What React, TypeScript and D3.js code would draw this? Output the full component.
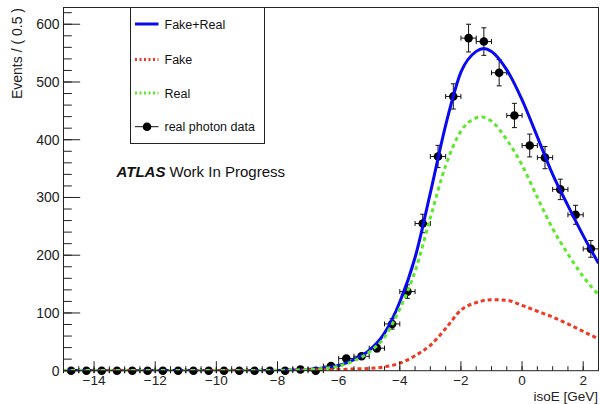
import React from "react";
import * as d3 from "d3";

// ---------- data ----------
const binCenters = [
  -14.75, -14.25, -13.75, -13.25, -12.75, -12.25, -11.75, -11.25, -10.75, -10.25,
  -9.75, -9.25, -8.75, -8.25, -7.75, -7.25, -6.75, -6.25, -5.75, -5.25,
  -4.75, -4.25, -3.75, -3.25, -2.75, -2.25, -1.75, -1.25, -0.75, -0.25,
  0.25, 0.75, 1.25, 1.75, 2.25,
];
const dataCounts = [
  0, 0, 0, 0, 0, 0, 0, 0, 0, 0,
  0, 0, 0, 0, 0, 2, 0, 8, 21, 25,
  39, 81, 137, 255, 371, 475, 576, 570, 516, 442,
  390, 369, 314, 270, 211,
];

const totalX = [-15, -8, -7.5, -7, -6.5, -6, -5.5, -5, -4.5, -4, -3.5, -3, -2.5, -2, -1.5, -1.25, -1, -0.5, 0, 0.5, 1, 1.5, 2, 2.5];
const totalY = [0.3, 0.5, 1, 2, 4.5, 9, 19, 35, 65, 119, 196, 308, 425, 517, 553, 558, 553, 521, 469, 405, 340, 286, 234, 186];

const fakeX = [-15, -8, -7.5, -7, -6.5, -6, -5.5, -5, -4.5, -4, -3.5, -3, -2.5, -2, -1.5, -1, -0.5, 0, 0.5, 1, 1.5, 2, 2.5];
const fakeY = [0, 0, 0.5, 1, 1.5, 2, 3, 4, 6.5, 13, 26, 44, 73, 105, 118, 123, 122, 113, 103, 93, 81, 68, 55];

const realX = [-15, -8, -7.5, -7, -6.5, -6, -5.5, -5, -4.5, -4, -3.5, -3, -2.5, -2, -1.5, -1.4, -1, -0.5, 0, 0.5, 1, 1.5, 2, 2.5];
const realY = [0.3, 0.5, 1, 2, 4, 8, 17, 32, 58, 107, 172, 265, 355, 415, 438, 440, 432, 400, 356, 300, 246, 202, 163, 131];

const xMajorTicks = [-14, -12, -10, -8, -6, -4, -2, 0, 2];
const yMajorTicks = [0, 100, 200, 300, 400, 500, 600];

const legendLabels = ["Fake+Real", "Fake", "Real", "real photon data"];

// ---------- layout ----------
const W = 600;
const H = 404;
const left = 63.5;
const right = 598.5;
const top = 7.5;
const bottom = 370.7;
const FONT = "'Liberation Sans', Arial, Helvetica, sans-serif";

const BLUE = "#0a0af0";
const RED = "#ee3a22";
const GREEN = "#5ee82a";

export default function App() {
  const x = d3.scaleLinear().domain([-15, 2.5]).range([left, right]);
  const y = d3.scaleLinear().domain([0, 629]).range([bottom, top]);

  const mk = (xs: number[], ys: number[]) =>
    d3
      .line<number>()
      .x((_, i) => x(xs[i]))
      .y((_, i) => y(ys[i]))
      .curve(d3.curveMonotoneX)(ys) || "";

  const xMinor = d3.range(-15, 2.5001, 0.5);
  const yMinor = d3.range(0, 629, 20);

  const halfW = x(0.25) - x(0);

  return (
    <svg
      width={W}
      height={H}
      style={{ position: "absolute", left: 0, top: 0, background: "white" }}
      fontFamily={FONT}
    >
      <defs>
        <clipPath id="plot">
          <rect x={left} y={top} width={right - left} height={bottom - top} />
        </clipPath>
      </defs>

      {/* data points */}
      <g stroke="#111" strokeWidth={1}>
        {binCenters.map((c, i) => {
          const n = dataCounts[i];
          const cx = x(c);
          const cy = y(n);
          const err = Math.sqrt(n);
          const yU = y(n + err);
          const yD = y(Math.max(0, n - err));
          return (
            <g key={i}>
              <line x1={cx - halfW} x2={cx + halfW} y1={cy} y2={cy} />
              <line x1={cx - halfW} x2={cx - halfW} y1={cy - 2.5} y2={cy + 2.5} />
              <line x1={cx + halfW} x2={cx + halfW} y1={cy - 2.5} y2={cy + 2.5} />
              {n > 0 && (
                <>
                  <line x1={cx} x2={cx} y1={yU} y2={yD} />
                  <line x1={cx - 2.5} x2={cx + 2.5} y1={yU} y2={yU} />
                  <line x1={cx - 2.5} x2={cx + 2.5} y1={yD} y2={yD} />
                </>
              )}
              <circle cx={cx} cy={cy} r={4.3} fill="#000" stroke="none" />
            </g>
          );
        })}
      </g>

      {/* curves */}
      <g clipPath="url(#plot)" fill="none" strokeWidth={3}>
        <path d={mk(totalX, totalY)} stroke={BLUE} />
        <path d={mk(fakeX, fakeY)} stroke={RED} strokeDasharray="4 3" />
        <path d={mk(realX, realY)} stroke={GREEN} strokeDasharray="4 3.5" />
      </g>

      {/* frame */}
      <rect x={left} y={top} width={right - left} height={bottom - top} fill="none" stroke="#222" strokeWidth={1} />

      {/* axis ticks */}
      <g stroke="#222" strokeWidth={1}>
        {xMinor.map((t, i) => (
          <line key={"xm" + i} x1={x(t)} x2={x(t)} y1={bottom} y2={bottom - 4.5} />
        ))}
        {xMajorTicks.map((t) => (
          <line key={"xM" + t} x1={x(t)} x2={x(t)} y1={bottom} y2={bottom - 9.5} />
        ))}
        {yMinor.map((t, i) => (
          <line key={"ym" + i} x1={left} x2={left + 8.3} y1={y(t)} y2={y(t)} />
        ))}
        {yMajorTicks.map((t) => (
          <line key={"yM" + t} x1={left} x2={left + 16.7} y1={y(t)} y2={y(t)} />
        ))}
      </g>

      {/* tick labels */}
      <g fill="#222">
        {xMajorTicks.map((t) => (
          <text key={"xl" + t} x={x(t)} y={384.5} textAnchor="middle" fontSize={13.5}>
            {t < 0 ? "\u2212" + Math.abs(t) : String(t)}
          </text>
        ))}
        {yMajorTicks.map((t) => (
          <text key={"yl" + t} x={59.5} y={y(t) + 5} textAnchor="end" fontSize={14}>
            {t}
          </text>
        ))}
      </g>

      {/* axis titles */}
      <text x={598} y={400.8} textAnchor="end" fontSize={13.5} fill="#222">
        isoE [GeV]
      </text>
      <text
        transform="translate(22,8) rotate(-90)"
        textAnchor="end"
        fontSize={14}
        fill="#222"
      >
        Events / ( 0.5 )
      </text>

      {/* ATLAS label */}
      <text x={116.5} y={176.5} fontSize={15} fill="#111">
        <tspan fontWeight="bold" fontStyle="italic">ATLAS</tspan>
        <tspan dx={4}>Work In Progress</tspan>
      </text>

      {/* legend */}
      <rect x={130.5} y={top} width={134} height={136} fill="white" stroke="#222" strokeWidth={1} />
      <g fontSize={12.5} fill="#111">
        <line x1={135} x2={158.5} y1={24} y2={24} stroke={BLUE} strokeWidth={3} />
        <text x={164.5} y={28.5}>{legendLabels[0]}</text>
        <line x1={135} x2={158.5} y1={59.5} y2={59.5} stroke={RED} strokeWidth={3} strokeDasharray="2 2.5" />
        <text x={164.5} y={64}>{legendLabels[1]}</text>
        <line x1={135} x2={158.5} y1={93} y2={93} stroke={GREEN} strokeWidth={3} strokeDasharray="2 2.5" />
        <text x={164.5} y={97.5}>{legendLabels[2]}</text>
        <line x1={135} x2={158.5} y1={126.7} y2={126.7} stroke="#111" strokeWidth={1} />
        <circle cx={147} cy={126.7} r={4.3} fill="#000" />
        <text x={164.5} y={131}>{legendLabels[3]}</text>
      </g>
    </svg>
  );
}
